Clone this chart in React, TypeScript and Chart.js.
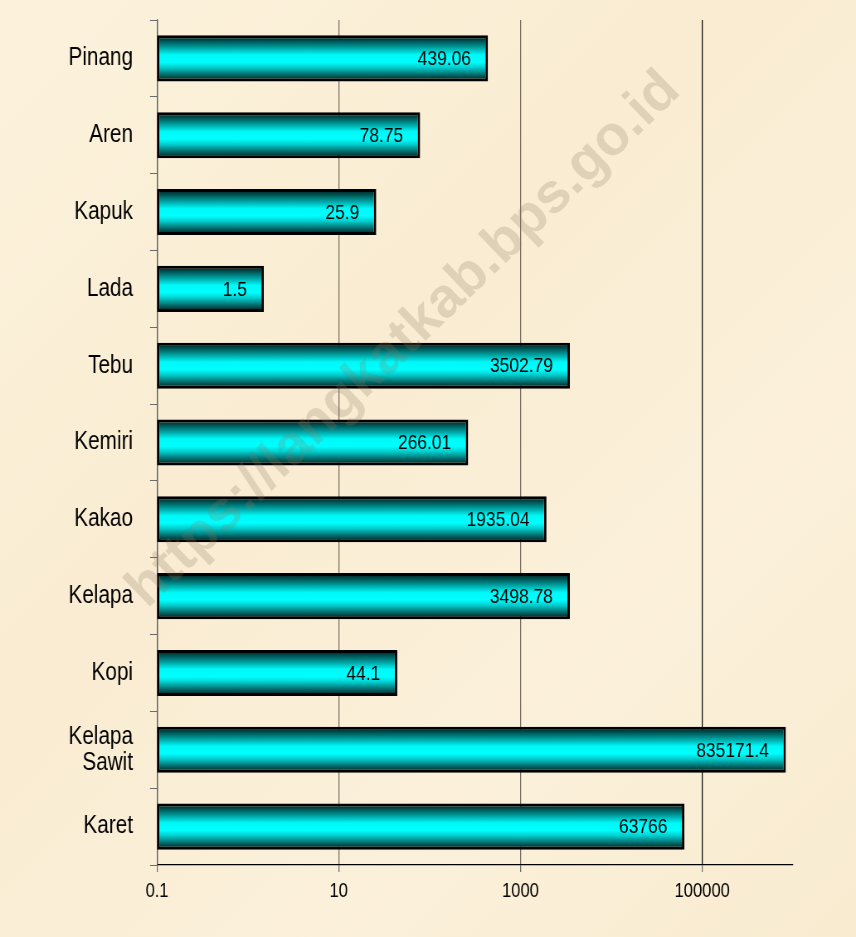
import React, { useEffect, useRef } from 'react';
import { Chart, registerables } from 'chart.js';

Chart.register(...registerables);

const CATEGORIES: (string | string[])[] = [
  'Pinang', 'Aren', 'Kapuk', 'Lada', 'Tebu', 'Kemiri', 'Kakao', 'Kelapa', 'Kopi', ['Kelapa', 'Sawit'], 'Karet',
];
const VALUES: number[] = [439.06, 78.75, 25.9, 1.5, 3502.79, 266.01, 1935.04, 3498.78, 44.1, 835171.4, 63766];
const VALUE_LABELS: string[] = ['439.06', '78.75', '25.9', '1.5', '3502.79', '266.01', '1935.04', '3498.78', '44.1', '835171.4', '63766'];
const X_TICKS: number[] = [0.1, 10, 1000, 100000];
const X_TICK_LABELS: string[] = ['0.1', '10', '1000', '100000'];
const X_MIN = 0.1;
const X_MAX = 1000000;
const WATERMARK = 'https://langkatkab.bps.go.id';

// Displayed size, and the wider internal bitmap that is squeezed horizontally
// (the reference uses narrow, horizontally compressed text).
const W = 856;
const H = 937;
const IW = 1032;
const SX = W / IW; // horizontal squeeze factor
const FONT = '"Liberation Sans", Arial, sans-serif';
const BAR_PCT = 0.6;

const px = (cssX: number) => cssX / SX; // css px -> internal px (horizontal)

const watermarkPlugin = {
  id: 'watermark',
  afterDraw(chart: any) {
    const ctx = chart.ctx;
    ctx.save();
    ctx.scale(1 / SX, 1);
    ctx.translate(404, 340);
    ctx.rotate((-44 * Math.PI) / 180);
    ctx.font = `bold 56px ${FONT}`;
    ctx.fillStyle = 'rgba(140, 122, 95, 0.23)';
    ctx.textAlign = 'center';
    ctx.textBaseline = 'middle';
    ctx.fillText(WATERMARK, 0, 0);
    ctx.restore();
  },
};

const valueLabelPlugin = {
  id: 'valueLabels',
  afterDatasetsDraw(chart: any) {
    const ctx = chart.ctx;
    const meta = chart.getDatasetMeta(0);
    ctx.save();
    ctx.font = `21px ${FONT}`;
    ctx.fillStyle = '#000';
    ctx.textAlign = 'right';
    ctx.textBaseline = 'middle';
    meta.data.forEach((el: any, i: number) => {
      ctx.fillText(VALUE_LABELS[i], el.x - px(17), el.y + 1);
    });
    ctx.restore();
  },
};

export default function App() {
  const ref = useRef<HTMLCanvasElement | null>(null);

  useEffect(() => {
    const canvas = ref.current;
    if (!canvas) return;
    const chart = new Chart(canvas, {
      type: 'bar',
      data: {
        labels: CATEGORIES as any,
        datasets: [
          {
            data: VALUES,
            backgroundColor: (c: any) => {
              const ch = c.chart;
              const ys = ch.scales && ch.scales.y;
              if (!ch.chartArea || !ys || c.dataIndex === undefined) return '#00ffff';
              const center = ys.getPixelForValue(c.dataIndex);
              const h = (ys.height / CATEGORIES.length) * BAR_PCT;
              const g = ch.ctx.createLinearGradient(0, center - h / 2, 0, center + h / 2);
              g.addColorStop(0, '#001414');
              g.addColorStop(0.12, '#005050');
              g.addColorStop(0.3, '#00b4b4');
              g.addColorStop(0.42, '#00f8f8');
              g.addColorStop(0.58, '#00ffff');
              g.addColorStop(0.7, '#00cccc');
              g.addColorStop(0.87, '#006060');
              g.addColorStop(1, '#001414');
              return g;
            },
            borderColor: '#000000',
            borderWidth: 3,
            borderSkipped: false,
            barPercentage: BAR_PCT,
            categoryPercentage: 1,
          },
        ],
      },
      options: {
        indexAxis: 'y',
        responsive: false,
        animation: false,
        layout: { padding: { top: 20, right: IW - px(793), left: 0, bottom: 0 } },
        plugins: {
          legend: { display: false },
          tooltip: { enabled: false },
          title: { display: false },
        },
        scales: {
          x: {
            type: 'logarithmic',
            min: X_MIN,
            max: X_MAX,
            afterBuildTicks: (axis: any) => {
              axis.ticks = X_TICKS.map((v) => ({ value: v }));
            },
            afterFit: (axis: any) => {
              axis.height = 72;
              axis.paddingLeft = 0;
              axis.paddingRight = 0;
            },
            ticks: {
              autoSkip: false,
              maxRotation: 0,
              minRotation: 0,
              padding: 7,
              color: '#000',
              font: { family: FONT, size: 20 },
              callback: (v: any) => {
                const i = X_TICKS.indexOf(Number(v));
                return i >= 0 ? X_TICK_LABELS[i] : '';
              },
            },
            grid: {
              color: (c: any) => {
                const v = c.tick && c.tick.value;
                if (v === 100000) return '#000000';
                if (v === 0.1) return '#5a5a5a';
                return '#7a6e60';
              },
              tickColor: '#6e6e6e',
              tickLength: 7,
              lineWidth: 1.25,
            },
            border: { display: true, color: '#000000', width: 1.2 },
          },
          y: {
            type: 'category',
            offset: true,
            afterFit: (axis: any) => {
              axis.width = px(157);
              axis.paddingTop = 0;
              axis.paddingBottom = 0;
            },
            ticks: {
              color: '#000',
              padding: px(17),
              font: { family: FONT, size: 25, lineHeight: 1.05 },
            },
            grid: {
              offset: true,
              drawOnChartArea: false,
              tickLength: px(7),
              color: '#6a6a6a',
            },
            border: { display: true, color: '#5a5a5a', width: 1.25 },
          },
        },
      },
      plugins: [valueLabelPlugin, watermarkPlugin],
    } as any);
    return () => chart.destroy();
  }, []);

  return (
    <div
      style={{
        position: 'fixed',
        left: 0,
        top: 0,
        width: W,
        height: H,
        background: 'linear-gradient(135deg, #fcf2dc 0%, #f9ecd2 40%, #fbf0da 70%, #f8ebd0 100%)',
      }}
    >
      <canvas ref={ref} width={IW} height={H} style={{ display: 'block', width: W + 'px', height: H + 'px' }} />
    </div>
  );
}
